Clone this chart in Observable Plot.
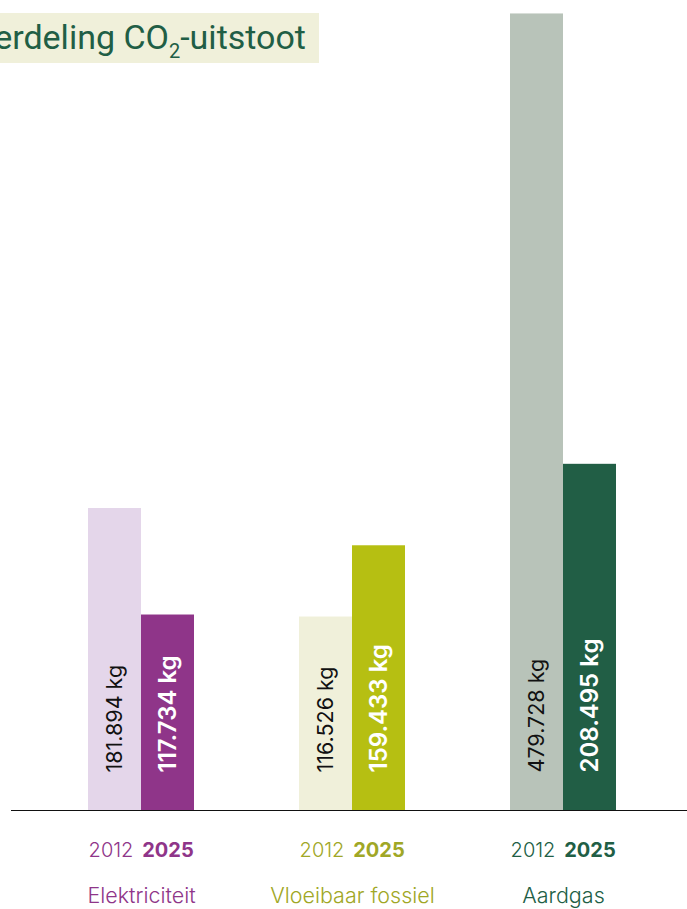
<!DOCTYPE html>
<html>
<head>
<meta charset="utf-8">
<script src="https://cdn.jsdelivr.net/npm/d3@7"></script>
<script src="https://cdn.jsdelivr.net/npm/@observablehq/plot@0.6"></script>
<style>
  html, body { margin: 0; padding: 0; background: #fff; overflow: hidden; }
  #wrap { position: relative; width: 687px; height: 909px; }
  #title {
    position: absolute; top: 13px; right: 368px; height: 50px;
    background: #f0f0da; color: #215e45;
    font-family: Roboto, sans-serif; font-weight: 400; font-size: 34px;
    line-height: 48px; white-space: nowrap; padding: 0 13px 0 20px;
  }
  #title .sub { font-size: 20px; position: relative; top: 9px; }
  #chart { position: absolute; left: 0; top: 0; }
</style>
</head>
<body>
<div id="wrap">
  <div id="chart"></div>
  <div id="title">Verdeling CO<span class="sub">2</span>-uitstoot</div>
</div>
<script>
const categories = ["Elektriciteit", "Vloeibaar fossiel", "Aardgas"];
const years = ["2012", "2025"];
const values2012 = [181894, 116526, 479728];
const values2025 = [117734, 159433, 208495];
const colors2012 = ["#e4d6ea", "#f0f0da", "#b8c3b9"];
const colors2025 = ["#8f3589", "#b6bf12", "#215e45"];
const labelColors = ["#8f3589", "#a0a726", "#215e45"];

const nl = d3.formatLocale({decimal: ",", thousands: ".", grouping: [3], currency: ["€", ""]});
const fmt = nl.format(",d");

const rows = [];
categories.forEach((c, i) => {
  rows.push({category: c, year: years[0], value: values2012[i], fill: colors2012[i], label: labelColors[i]});
  rows.push({category: c, year: years[1], value: values2025[i], fill: colors2025[i], label: labelColors[i]});
});
const catRows = categories.map((c, i) => ({category: c, label: labelColors[i]}));

const font = "Inter, 'Noto Sans', sans-serif";

const chart = Plot.plot({
  width: 687,
  height: 909,
  marginLeft: 12,
  marginRight: 0,
  marginTop: 13,
  marginBottom: 99,
  style: {fontFamily: font, background: "transparent", overflow: "visible"},
  fx: {domain: categories, paddingInner: 0.4988, paddingOuter: 0.3452, align: 0.513, axis: null, label: null},
  x: {domain: years, padding: 0, axis: null, label: null},
  y: {domain: [0, 480000], axis: null, label: null},
  color: {type: "identity"},
  marks: [
    Plot.barY(rows, {fx: "category", x: "year", y: "value", fill: "fill", inset: 0}),
    Plot.ruleY([0], {stroke: "#111", strokeWidth: 1.5, shapeRendering: "crispEdges", insetLeft: -77, insetRight: -71}),
    Plot.text(rows.filter(d => d.year === "2012"), {
      fx: "category", x: "year", y: 0, text: d => fmt(d.value) + " kg",
      rotate: -90, textAnchor: "start", lineAnchor: "middle", dy: -38,
      fill: "#111", fontSize: 21.5, fontWeight: 400
    }),
    Plot.text(rows.filter(d => d.year === "2025"), {
      fx: "category", x: "year", y: 0, text: d => fmt(d.value) + " kg",
      rotate: -90, textAnchor: "start", lineAnchor: "middle", dy: -38,
      fill: "#fff", fontSize: 24, fontWeight: 600
    }),
    Plot.text(rows.filter(d => d.year === "2012"), {
      fx: "category", x: "year", frameAnchor: "bottom", text: "year",
      lineAnchor: "middle", dy: 40, dx: -4, fill: "label", fontSize: 20, fontWeight: 300
    }),
    Plot.text(rows.filter(d => d.year === "2025"), {
      fx: "category", x: "year", frameAnchor: "bottom", text: "year",
      lineAnchor: "middle", dy: 40, fill: "label", fontSize: 20, fontWeight: 700
    }),
    Plot.text(catRows, {
      fx: "category", frameAnchor: "bottom", text: "category",
      lineAnchor: "middle", dy: 86, fill: "label", fontSize: 21.5, fontWeight: 300
    })
  ]
});
document.getElementById("chart").appendChild(chart);
</script>
</body>
</html>
